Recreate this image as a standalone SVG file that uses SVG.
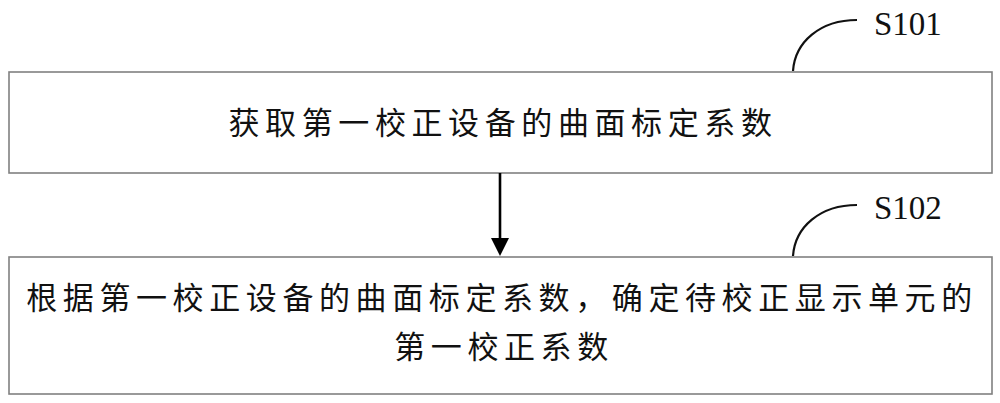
<svg xmlns="http://www.w3.org/2000/svg" width="1000" height="403" viewBox="0 0 1000 403">
<style>
.box{fill:#fff;stroke:#808080;stroke-width:1.6}
.cn{font-family:"Noto Sans CJK SC","Noto Sans CJK JP",sans-serif;font-size:31px;letter-spacing:5.6px;fill:#111;text-anchor:middle}
.lbl{font-family:"Liberation Serif","Times New Roman",serif;font-size:33px;fill:#111}
.lead{fill:none;stroke:#111;stroke-width:2.2}
</style>
<rect width="1000" height="403" fill="#fff"/>
<g id="S101">
<rect class="box" x="9" y="72" width="983" height="101"/>
<text class="cn" x="503" y="134">获取第一校正设备的曲面标定系数</text>
<path class="lead" d="M793,71 C795,42 820,20 857,20"/>
<text class="lbl" x="874" y="35">S101</text>
</g>
<g id="S102">
<rect class="box" x="9" y="257" width="983" height="137"/>
<text class="cn" x="502" y="309">根据第一校正设备的曲面标定系数，确定待校正显示单元的</text>
<text class="cn" x="504" y="358">第一校正系数</text>
<path class="lead" d="M793,256 C795,227 820,205 857,205"/>
<text class="lbl" x="874" y="219">S102</text>
</g>
<g id="connectors">
<line x1="500" y1="173" x2="500" y2="240" stroke="#000" stroke-width="2.6"/>
<polygon points="491,238 509,238 500,256" fill="#000"/>
</g>
</svg>
